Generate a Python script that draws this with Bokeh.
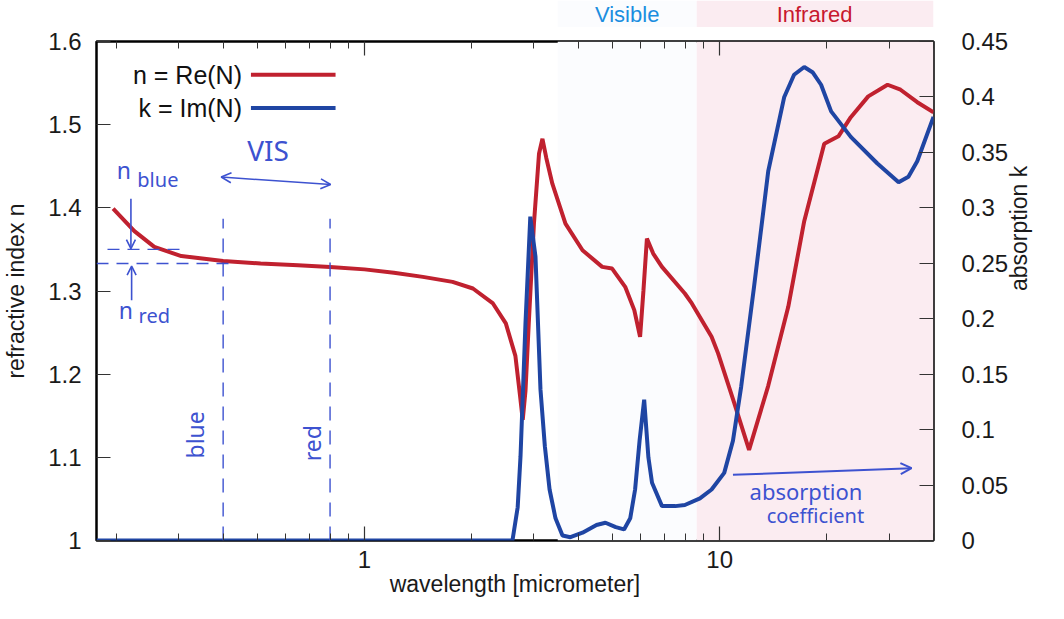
import math
from bokeh.plotting import figure
from bokeh.layouts import column
from bokeh.models import (Range1d, LinearAxis, LogAxis, FixedTicker, BoxAnnotation,
                          Arrow, OpenHead)
from bokeh.core.properties import value
from bokeh.embed import file_html
from bokeh.resources import INLINE

# ---------------- data ----------------
wavelength_n = [0.196, 0.225, 0.256, 0.305, 0.40, 0.51, 0.65, 0.80, 1.0, 1.21, 1.46, 1.77,
                2.02, 2.30, 2.50, 2.66, 2.74, 2.79, 2.84, 2.90, 3.00, 3.10, 3.17, 3.25, 3.38,
                3.68, 4.11, 4.67, 4.98, 5.42, 5.75, 5.97, 6.10, 6.24, 6.50, 6.88, 7.98, 8.35,
                9.49, 9.9, 11.0, 12.1, 13.7, 15.6, 17.3, 19.7, 21.6, 23.4, 26.2, 29.7, 32.3,
                36.0, 40.0]
n_real = [1.399, 1.372, 1.353, 1.342, 1.336, 1.333, 1.331, 1.329, 1.326, 1.322, 1.317, 1.311,
          1.303, 1.285, 1.261, 1.222, 1.175, 1.145, 1.180, 1.260, 1.381, 1.465, 1.483, 1.460, 1.429,
          1.381, 1.349, 1.329, 1.327, 1.305, 1.277, 1.245, 1.300, 1.363, 1.345, 1.329, 1.297, 1.285,
          1.245, 1.225, 1.165, 1.109, 1.186, 1.281, 1.384, 1.477, 1.486, 1.509, 1.534, 1.548, 1.542,
          1.527, 1.515]

wavelength_k = [0.176, 1.0, 2.61, 2.70, 2.75, 2.84, 2.93, 3.03, 3.13, 3.22, 3.32, 3.45, 3.61,
                3.80, 4.11, 4.50, 4.77, 5.10, 5.38, 5.60, 5.78, 5.95, 6.13, 6.30, 6.45, 6.88,
                7.50, 7.98, 8.80, 9.49, 10.3, 10.9, 11.5, 12.5, 13.7, 15.2, 16.2, 17.3, 18.3,
                19.3, 20.6, 23.4, 27.8, 31.9, 34.0, 36.0, 40.0]
k_imag = [0.0, 0.0, 0.0, 0.030, 0.076, 0.196, 0.292, 0.256, 0.136, 0.085, 0.046, 0.020, 0.0045,
          0.003, 0.007, 0.014, 0.016, 0.012, 0.010, 0.020, 0.046, 0.090, 0.127, 0.075, 0.052, 0.031,
          0.031, 0.032, 0.038, 0.046, 0.061, 0.090, 0.139, 0.229, 0.333, 0.400, 0.420, 0.427, 0.422,
          0.411, 0.387, 0.364, 0.340, 0.323, 0.328, 0.342, 0.382]

band_names = ["Visible", "Infrared"]
band_left = [3.5, 8.62]
band_right = [8.62, 40.0]
band_label_x = [5.49, 18.5]

x_major_ticks = [1, 10]
x_major_labels = ["1", "10"]
x_minor_ticks = [0.2, 0.3, 0.4, 0.5, 0.6, 0.7, 0.8, 0.9, 2, 3, 4, 5, 6, 7, 8, 9, 20, 30, 40]
n_ticks = [1.0, 1.1, 1.2, 1.3, 1.4, 1.5, 1.6]
n_tick_labels = ["1", "1.1", "1.2", "1.3", "1.4", "1.5", "1.6"]
k_ticks = [0.0, 0.05, 0.1, 0.15, 0.2, 0.25, 0.3, 0.35, 0.4, 0.45]
k_tick_labels = ["0", "0.05", "0.1", "0.15", "0.2", "0.25", "0.3", "0.35", "0.4", "0.45"]

RED = "#c0212f"
BLUE = "#1f45a3"
INK = "#3d52d0"
FONT = "Liberation Sans"
BAND_FILL = ["#fbfcfe", "#fbecf1"]
BAND_TEXT = ["#1b8ee0", "#c8182e"]

W = 1048
TOP_H = 27
MAIN_H = 576
BL, BR = 94, 113

# ---------------- main figure ----------------
p = figure(width=W, height=MAIN_H, x_axis_type="log",
           x_range=Range1d(0.176, 40), y_range=Range1d(1.0, 1.6),
           output_backend="svg", toolbar_location=None,
           min_border_left=BL, min_border_right=BR, min_border_top=14, min_border_bottom=63)
p.extra_y_ranges = {"k": Range1d(0.0, 0.45)}
p.xgrid.visible = False
p.ygrid.visible = False
p.outline_line_color = "black"
p.outline_line_width = 2.5
p.background_fill_color = "white"
p.border_fill_color = "white"


def style_axis(ax):
    ax.axis_line_color = None
    ax.major_tick_in = 14
    ax.major_tick_out = 0
    ax.major_tick_line_color = "#333333"
    ax.major_tick_line_width = 1.2
    ax.major_label_text_font = FONT
    ax.major_label_text_font_size = "24px"
    ax.major_label_text_color = "#1a1a1a"
    ax.axis_label_text_font = FONT
    ax.axis_label_text_font_size = "23px"
    ax.axis_label_text_font_style = "normal"
    ax.axis_label_text_color = "#1a1a1a"


# bottom axis
xb = p.xaxis[0]
xb.ticker = FixedTicker(ticks=x_major_ticks, minor_ticks=x_minor_ticks)
xb.major_label_overrides = dict(zip(x_major_ticks, x_major_labels))
style_axis(xb)
xb.minor_tick_in = 7
xb.minor_tick_out = 0
xb.minor_tick_line_color = "#333333"
xb.major_label_standoff = 10
xb.axis_label = "wavelength [micrometer]"
xb.axis_label_standoff = 0

# top axis (ticks only)
xt = LogAxis(ticker=FixedTicker(ticks=x_major_ticks, minor_ticks=x_minor_ticks))
style_axis(xt)
xt.major_label_text_font_size = "2px"
xt.major_label_text_color = None
xt.major_label_standoff = 0
xt.minor_tick_in = 7
xt.minor_tick_out = 0
xt.minor_tick_line_color = "#333333"
p.add_layout(xt, "above")

# left axis
yl = p.yaxis[0]
yl.ticker = FixedTicker(ticks=n_ticks)
yl.major_label_overrides = dict(zip(n_ticks, n_tick_labels))
style_axis(yl)
yl.minor_tick_line_color = None
yl.major_label_standoff = 15
yl.axis_label = "refractive index n"
yl.axis_label_standoff = 16

# right axis
yr = LinearAxis(y_range_name="k", ticker=FixedTicker(ticks=k_ticks))
yr.major_label_overrides = dict(zip(k_ticks, k_tick_labels))
style_axis(yr)
yr.minor_tick_line_color = None
yr.major_label_standoff = 28
yr.axis_label = "absorption k"
yr.axis_label_standoff = 8
try:
    yr.axis_label_orientation = math.pi / 2
except Exception:
    pass
p.add_layout(yr, "right")

# shaded bands
for bl, br, fc in zip(band_left, band_right, BAND_FILL):
    p.add_layout(BoxAnnotation(left=bl, right=br, fill_color=fc, fill_alpha=1.0,
                               line_color=None, level="underlay"))

# curves
p.line(wavelength_n, n_real, line_color=RED, line_width=4)
p.line(wavelength_k, k_imag, line_color=BLUE, line_width=4, y_range_name="k")

# legend (text left of sample line)
for txt, yy, col in [("n = Re(N)", 1.560, RED), ("k = Im(N)", 1.520, BLUE)]:
    p.text(x=[0.452], y=[yy], text=[txt], text_align="right", text_baseline="middle",
           text_font=value(FONT), text_font_size="25px", text_color="#111111")
    p.line([0.479, 0.829], [yy, yy], line_color=col, line_width=4)

# hand-drawn style annotations
HF = value("Noto Sans")
p.line([0.189, 0.305], [1.350, 1.350], line_color=INK, line_width=1.4, line_dash="12 8")
p.line([0.176, 0.430], [1.333, 1.333], line_color=INK, line_width=1.4, line_dash="12 8")
p.line([0.40, 0.40], [1.0, 1.387], line_color=INK, line_width=1.4, line_dash="14 10")
p.line([0.80, 0.80], [1.0, 1.387], line_color=INK, line_width=1.4, line_dash="14 10")

p.add_layout(Arrow(end=OpenHead(size=9, line_color=INK, line_width=1.6),
                   x_start=0.220, y_start=1.411, x_end=0.220, y_end=1.351,
                   line_color=INK, line_width=1.6))
p.add_layout(Arrow(end=OpenHead(size=9, line_color=INK, line_width=1.6),
                   x_start=0.221, y_start=1.289, x_end=0.221, y_end=1.330,
                   line_color=INK, line_width=1.6))
p.add_layout(Arrow(start=OpenHead(size=10, line_color=INK, line_width=1.6),
                   end=OpenHead(size=10, line_color=INK, line_width=1.6),
                   x_start=0.395, y_start=1.437, x_end=0.803, y_end=1.428,
                   line_color=INK, line_width=1.6))
p.add_layout(Arrow(end=OpenHead(size=11, line_color=INK, line_width=2),
                   x_start=10.9, y_start=1.079, x_end=34.7, y_end=1.087,
                   line_color=INK, line_width=2))

p.text(x=[0.210], y=[1.446], text=["n"], text_font=HF, text_font_size="23px",
       text_color=INK, text_align="center", text_baseline="middle")
p.text(x=[0.262], y=[1.434], text=["blue"], text_font=HF, text_font_size="20px",
       text_color=INK, text_align="center", text_baseline="middle")
p.text(x=[0.213], y=[1.277], text=["n"], text_font=HF, text_font_size="23px",
       text_color=INK, text_align="center", text_baseline="middle")
p.text(x=[0.256], y=[1.270], text=["red"], text_font=HF, text_font_size="20px",
       text_color=INK, text_align="center", text_baseline="middle")
p.text(x=[0.535], y=[1.469], text=["VIS"], text_font=HF, text_font_size="28px",
       text_color=INK, text_align="center", text_baseline="middle")
p.text(x=[0.334], y=[1.127], text=["blue"], angle=[math.pi / 2], text_font=HF,
       text_font_size="23px", text_color=INK, text_align="center", text_baseline="middle")
p.text(x=[0.711], y=[1.117], text=["red"], angle=[math.pi / 2], text_font=HF,
       text_font_size="23px", text_color=INK, text_align="center", text_baseline="middle")
p.text(x=[17.5], y=[1.059], text=["absorption"], text_font=HF, text_font_size="22px",
       text_color=INK, text_align="center", text_baseline="middle")
p.text(x=[18.6], y=[1.030], text=["coefficient"], text_font=HF, text_font_size="20px",
       text_color=INK, text_align="center", text_baseline="middle")

# ---------------- strip above the frame with band names ----------------
top = figure(width=W, height=TOP_H, x_axis_type="log", x_range=p.x_range,
             y_range=Range1d(0, 1), output_backend="svg", toolbar_location=None,
             x_axis_location=None, y_axis_location=None,
             min_border_left=BL, min_border_right=BR, min_border_top=0, min_border_bottom=0)
top.xgrid.visible = False
top.ygrid.visible = False
top.outline_line_color = None
top.background_fill_color = "white"
top.border_fill_color = "white"
top.quad(left=band_left, right=band_right, bottom=[0, 0], top=[1, 1],
         fill_color=BAND_FILL, line_color=None)
top.text(x=band_label_x, y=[0.5, 0.5], text=band_names, text_color=BAND_TEXT,
         text_font=value(FONT), text_font_size="22px", text_align="center",
         text_baseline="middle")

layout = column(top, p, spacing=0)
open("out.html", "w").write(file_html(layout, INLINE))
